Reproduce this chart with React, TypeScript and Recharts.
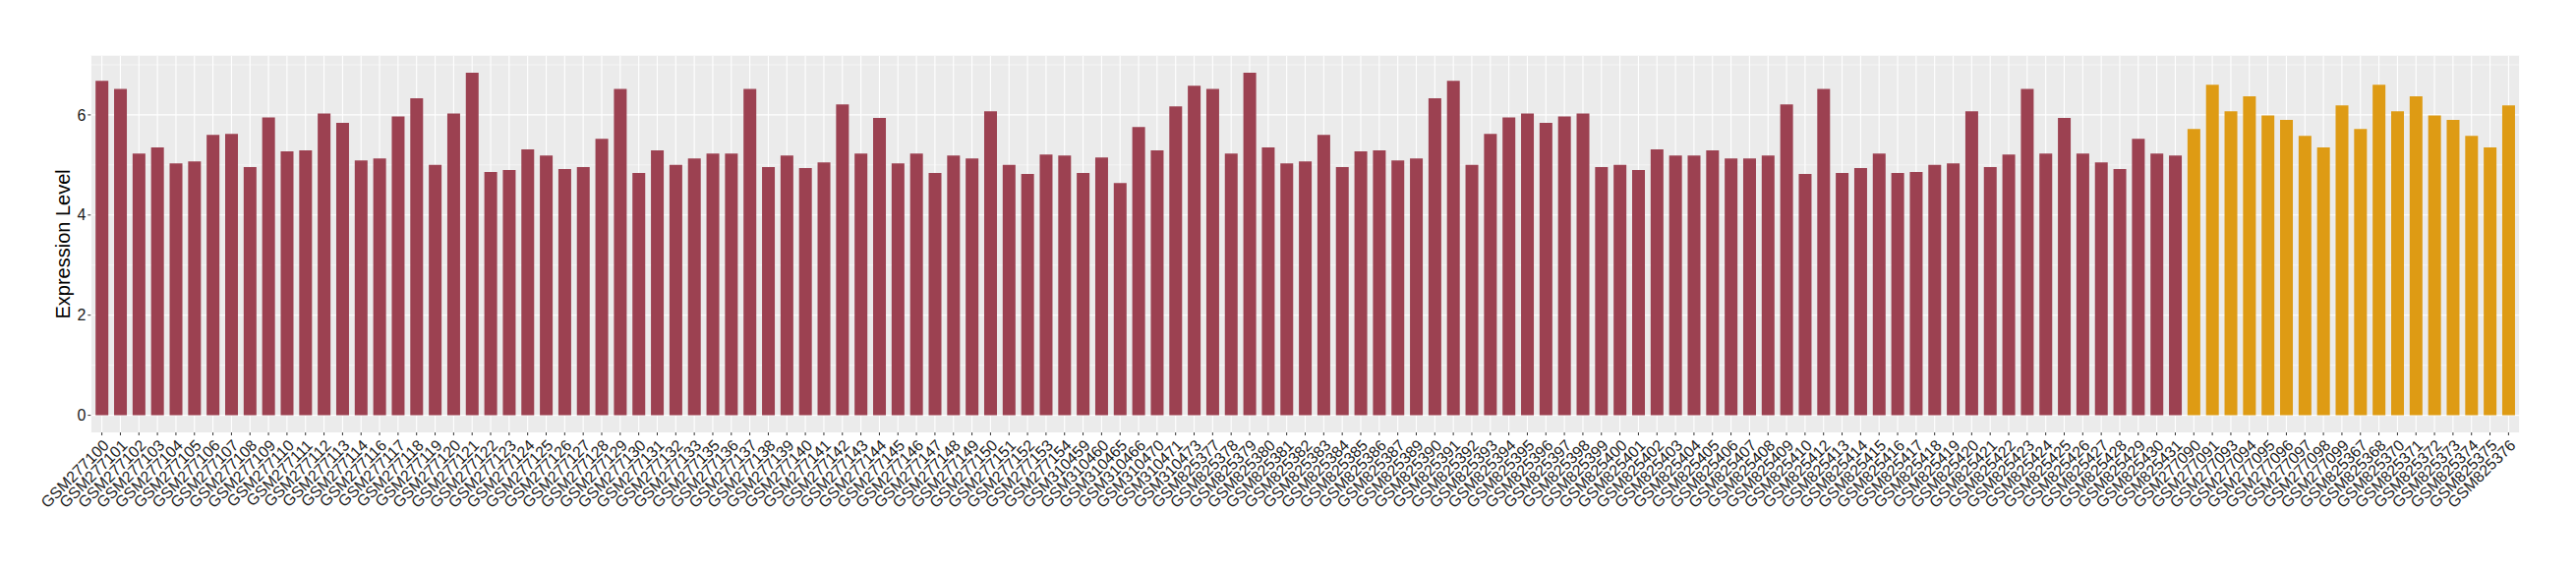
import React from "react";
import { BarChart, Bar, XAxis, YAxis, CartesianGrid, Cell } from "recharts";

const samplesGroupA: string[] = [
  "GSM277100", "GSM277101", "GSM277102", "GSM277103", "GSM277104", "GSM277105", "GSM277106", "GSM277107",
  "GSM277108", "GSM277109", "GSM277110", "GSM277111", "GSM277112", "GSM277113", "GSM277114", "GSM277116",
  "GSM277117", "GSM277118", "GSM277119", "GSM277120", "GSM277121", "GSM277122", "GSM277123", "GSM277124",
  "GSM277125", "GSM277126", "GSM277127", "GSM277128", "GSM277129", "GSM277130", "GSM277131", "GSM277132",
  "GSM277133", "GSM277135", "GSM277136", "GSM277137", "GSM277138", "GSM277139", "GSM277140", "GSM277141",
  "GSM277142", "GSM277143", "GSM277144", "GSM277145", "GSM277146", "GSM277147", "GSM277148", "GSM277149",
  "GSM277150", "GSM277151", "GSM277152", "GSM277153", "GSM277154",
  "GSM310459", "GSM310460", "GSM310465", "GSM310466", "GSM310470", "GSM310471", "GSM310473",
  "GSM825377", "GSM825378", "GSM825379", "GSM825380", "GSM825381", "GSM825382", "GSM825383", "GSM825384",
  "GSM825385", "GSM825386", "GSM825387", "GSM825389", "GSM825390", "GSM825391", "GSM825392", "GSM825393",
  "GSM825394", "GSM825395", "GSM825396", "GSM825397", "GSM825398", "GSM825399", "GSM825400", "GSM825401",
  "GSM825402", "GSM825403", "GSM825404", "GSM825405", "GSM825406", "GSM825407", "GSM825408", "GSM825409",
  "GSM825410", "GSM825412", "GSM825413", "GSM825414", "GSM825415", "GSM825416", "GSM825417", "GSM825418",
  "GSM825419", "GSM825420", "GSM825421", "GSM825422", "GSM825423", "GSM825424", "GSM825425", "GSM825426",
  "GSM825427", "GSM825428", "GSM825429", "GSM825430", "GSM825431",
];

const valuesGroupA: number[] = [
  6.68, 6.52, 5.23, 5.35, 5.03, 5.07, 5.6, 5.62, 4.96, 5.95, 5.27, 5.29, 6.03, 5.84, 5.09,
  5.13, 5.97, 6.33, 5.0, 6.03, 6.84, 4.86, 4.9, 5.31, 5.19, 4.92, 4.96, 5.52, 6.52, 4.84, 5.29, 5.0, 5.13,
  5.23, 5.23, 6.52, 4.96, 5.19, 4.94, 5.05, 6.21, 5.23, 5.94, 5.03, 5.23, 4.84, 5.19, 5.13, 6.07, 5.0, 4.82, 5.21, 5.19,
  4.84, 5.15, 4.64, 5.76, 5.29, 6.17, 6.58,
  6.52, 5.23, 6.84, 5.35, 5.03, 5.07, 5.6, 4.96, 5.27, 5.29, 5.09,
  5.13, 6.33, 6.68, 5.0, 5.62, 5.95, 6.03, 5.84, 5.97, 6.03, 4.96, 5.0, 4.9, 5.31, 5.19, 5.19, 5.29, 5.13, 5.13, 5.19, 6.21, 4.82,
  6.52, 4.84, 4.94, 5.23, 4.84, 4.86, 5.0, 5.03, 6.07, 4.96, 5.21, 6.52, 5.23, 5.94, 5.23, 5.05, 4.92, 5.52, 5.23, 5.19,
];

const samplesGroupB: string[] = [
  "GSM277090", "GSM277091", "GSM277093", "GSM277094", "GSM277095", "GSM277096", "GSM277097", "GSM277098", "GSM277099",
  "GSM825367", "GSM825368", "GSM825370", "GSM825371", "GSM825372", "GSM825373", "GSM825374", "GSM825375", "GSM825376",
];

const valuesGroupB: number[] = [
  5.72, 6.6, 6.07, 6.37, 5.99, 5.9, 5.58, 5.35, 6.19,
  5.72, 6.6, 6.07, 6.37, 5.99, 5.9, 5.58, 5.35, 6.19,
];

const yTicks: number[] = [0, 2, 4, 6];
const yMinorTicks: number[] = [1, 3, 5, 7];

const COLOR_A = "#9C4151";
const COLOR_B = "#DE9B14";
const FONT = "'Liberation Sans', Arial, Helvetica, sans-serif";

const data = [
  ...samplesGroupA.map((s, i) => ({ sample: s, value: valuesGroupA[i], group: "A" })),
  ...samplesGroupB.map((s, i) => ({ sample: s, value: valuesGroupB[i], group: "B" })),
];

const W = 2620;
const H = 580;
const PLOT_LEFT = 92.3;
const PLOT_RIGHT = 2562.7;
const PLOT_TOP = 56.7;
const PLOT_BOTTOM = 440;
const Y_AXIS_W = 60;
const X_AXIS_H = 130;

const maxVal = Math.max(...data.map((d) => d.value));
const expand = maxVal * 0.05;

const XTick = (props: any) => {
  const { x, y, payload } = props;
  return (
    <g transform={`translate(${x},${y}) rotate(-45)`}>
      <text textAnchor="end" dy="0.72em" fontSize={16} fill="#1a1a1a" fontFamily={FONT}>
        {payload.value}
      </text>
    </g>
  );
};

export default function App() {
  return (
    <div style={{ position: "absolute", left: 0, top: 0, width: W, height: H, background: "#fff" }}>
      <BarChart
        width={W}
        height={H}
        data={data}
        margin={{
          top: PLOT_TOP,
          left: PLOT_LEFT - Y_AXIS_W,
          right: W - PLOT_RIGHT,
          bottom: H - PLOT_BOTTOM - X_AXIS_H,
        }}
      >
        <CartesianGrid fill="#EBEBEB" stroke="#FFFFFF" strokeWidth={1.1} horizontalValues={yTicks} />
        <CartesianGrid
          stroke="#FFFFFF"
          strokeWidth={0.55}
          vertical={false}
          horizontalValues={yMinorTicks}
          fill="none"
        />
        <XAxis
          dataKey="sample"
          type="category"
          interval={0}
          height={X_AXIS_H}
          padding={{ left: 1.9, right: 1.9 }}
          axisLine={false}
          tickLine={{ stroke: "#333333", strokeWidth: 1 }}
          tickSize={3}
          tickMargin={3}
          tick={<XTick />}
        />
        <YAxis
          type="number"
          domain={[-expand, maxVal + expand]}
          ticks={yTicks}
          width={Y_AXIS_W}
          axisLine={false}
          tickLine={{ stroke: "#333333", strokeWidth: 1 }}
          tickSize={3}
          tickMargin={2}
          tick={{ fontSize: 16, fill: "#1a1a1a", fontFamily: FONT }}
          allowDataOverflow
          label={{
            content: () => (
              <text
                transform={`translate(71,${(PLOT_TOP + PLOT_BOTTOM) / 2}) rotate(-90)`}
                textAnchor="middle"
                fontSize={20}
                fill="#000"
                fontFamily={FONT}
              >
                Expression Level
              </text>
            ),
          }}
        />
        <Bar dataKey="value" barSize={13} isAnimationActive={false}>
          {data.map((d, i) => (
            <Cell key={i} fill={d.group === "A" ? COLOR_A : COLOR_B} />
          ))}
        </Bar>
      </BarChart>
    </div>
  );
}
